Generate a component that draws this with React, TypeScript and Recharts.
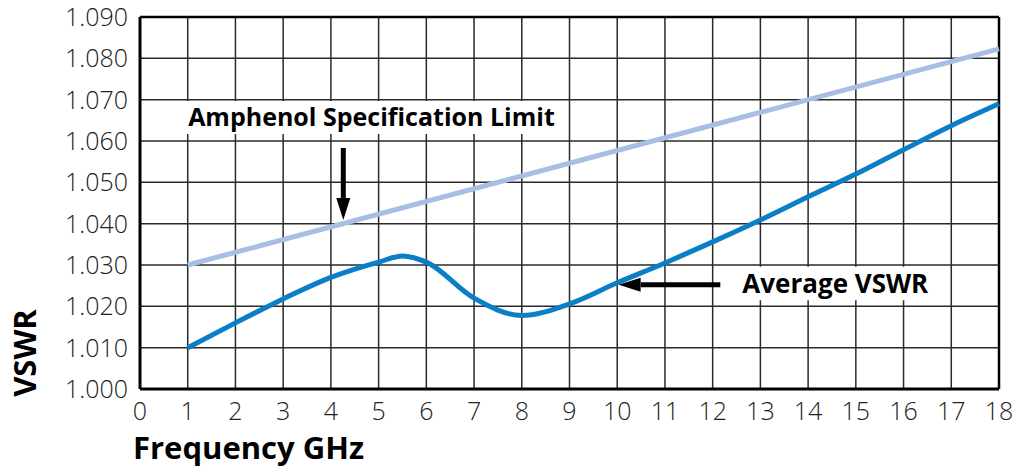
import {
  LineChart,
  Line,
  XAxis,
  YAxis,
  CartesianGrid,
  ReferenceLine,
  ReferenceArea,
} from "recharts";

// frequency (GHz) ticks and VSWR ticks
const freqTicks = [0, 1, 2, 3, 4, 5, 6, 7, 8, 9, 10, 11, 12, 13, 14, 15, 16, 17, 18];
const vswrTicks = [1.0, 1.01, 1.02, 1.03, 1.04, 1.05, 1.06, 1.07, 1.08, 1.09];

// Amphenol specification limit (straight line)
const specFreq = [1, 18];
const specVswr = [1.03, 1.0823];

// measured average VSWR
const avgFreq = [1, 2, 3, 4, 5, 5.5, 6, 7, 8, 9, 10, 11, 12, 13, 14, 15, 16, 17, 18];
const avgVswr = [
  1.01, 1.016, 1.0218, 1.027, 1.0307, 1.0322, 1.0307, 1.022, 1.0178, 1.0206,
  1.0257, 1.0305, 1.0356, 1.0409, 1.0465, 1.052, 1.0579, 1.0637, 1.069,
];

const specData = specFreq.map((f, i) => ({ f, v: specVswr[i] }));
const avgData = avgFreq.map((f, i) => ({ f, v: avgVswr[i] }));

const FONT = "'Open Sans', 'Noto Sans', sans-serif";

// line + filled arrowhead at the (x2, y2) end
const Arrow = (props: any) => {
  const { x1, y1, x2, y2 } = props;
  const dx = x2 - x1;
  const dy = y2 - y1;
  const len = Math.sqrt(dx * dx + dy * dy) || 1;
  const ux = dx / len;
  const uy = dy / len;
  const head = 22;
  const half = 7;
  const bx = x2 - ux * head;
  const by = y2 - uy * head;
  return (
    <g>
      <line x1={x1} y1={y1} x2={bx} y2={by} stroke="#000" strokeWidth={5} />
      <polygon
        points={`${x2},${y2} ${bx - uy * half},${by + ux * half} ${bx + uy * half},${by - ux * half}`}
        fill="#000"
      />
    </g>
  );
};

const annoLabel = (value: string, size: number) => ({
  value,
  position: "center" as const,
  style: { fontFamily: FONT, fontWeight: 700, fontSize: size, fill: "#000" },
});

export default function App() {
  return (
    <div style={{ position: "absolute", left: 0, top: 0, width: 1015, height: 467, background: "#fff" }}>
      <LineChart
        width={1015}
        height={467}
        margin={{ top: 17, right: 16, bottom: 48, left: 10 }}
      >
        <CartesianGrid stroke="#2a2a2a" strokeWidth={1.5} />
        <XAxis
          type="number"
          dataKey="f"
          domain={[0, 18]}
          ticks={freqTicks}
          interval={0}
          tickLine={false}
          tickMargin={7}
          height={30}
          axisLine={{ stroke: "#000", strokeWidth: 3 }}
          tick={{ fontFamily: FONT, fontSize: 25, fontWeight: 300, fill: "#222" }}
        />
        <YAxis
          type="number"
          dataKey="v"
          domain={[1.0, 1.09]}
          ticks={vswrTicks}
          interval={0}
          width={130}
          tickLine={false}
          tickSize={0}
          tickMargin={12}
          axisLine={{ stroke: "#000", strokeWidth: 3 }}
          tickFormatter={(v: number) => v.toFixed(3)}
          tick={{ fontFamily: FONT, fontSize: 25, fontWeight: 300, fill: "#222" }}
        />
        <ReferenceLine y={1.09} stroke="#000" strokeWidth={2.5} />
        <ReferenceLine x={18} stroke="#000" strokeWidth={2.5} />

        <ReferenceArea
          x1={0.8}
          x2={8.9}
          y1={1.0617}
          y2={1.0697}
          fill="#fff"
          fillOpacity={1}
          stroke="none"
          label={annoLabel("Amphenol Specification Limit", 25)}
        />
        <ReferenceArea
          x1={12.37}
          x2={16.77}
          y1={1.0215}
          y2={1.0296}
          fill="#fff"
          fillOpacity={1}
          stroke="none"
          label={annoLabel("Average VSWR", 26)}
        />

        <Line
          data={specData}
          dataKey="v"
          type="linear"
          stroke="#a8bfe4"
          strokeWidth={5}
          dot={false}
          isAnimationActive={false}
        />
        <Line
          data={avgData}
          dataKey="v"
          type="monotone"
          stroke="#0a7fc7"
          strokeWidth={5}
          dot={false}
          isAnimationActive={false}
        />

        <ReferenceLine
          segment={[
            { x: 4.26, y: 1.0583 },
            { x: 4.26, y: 1.0409 },
          ]}
          shape={Arrow}
        />
        <ReferenceLine
          segment={[
            { x: 12.16, y: 1.0252 },
            { x: 10.03, y: 1.0252 },
          ]}
          shape={Arrow}
        />
      </LineChart>
      <div
        style={{
          position: "absolute",
          left: 133,
          top: 428,
          fontFamily: FONT,
          fontWeight: 700,
          fontSize: 31,
          lineHeight: "38px",
          color: "#000",
          whiteSpace: "nowrap",
        }}
      >
        Frequency GHz
      </div>
      <div
        style={{
          position: "absolute",
          left: 24,
          top: 353,
          transform: "translate(-50%, -50%) rotate(-90deg)",
          fontFamily: FONT,
          fontWeight: 700,
          fontSize: 31,
          lineHeight: "38px",
          color: "#000",
          whiteSpace: "nowrap",
        }}
      >
        VSWR
      </div>
    </div>
  );
}
